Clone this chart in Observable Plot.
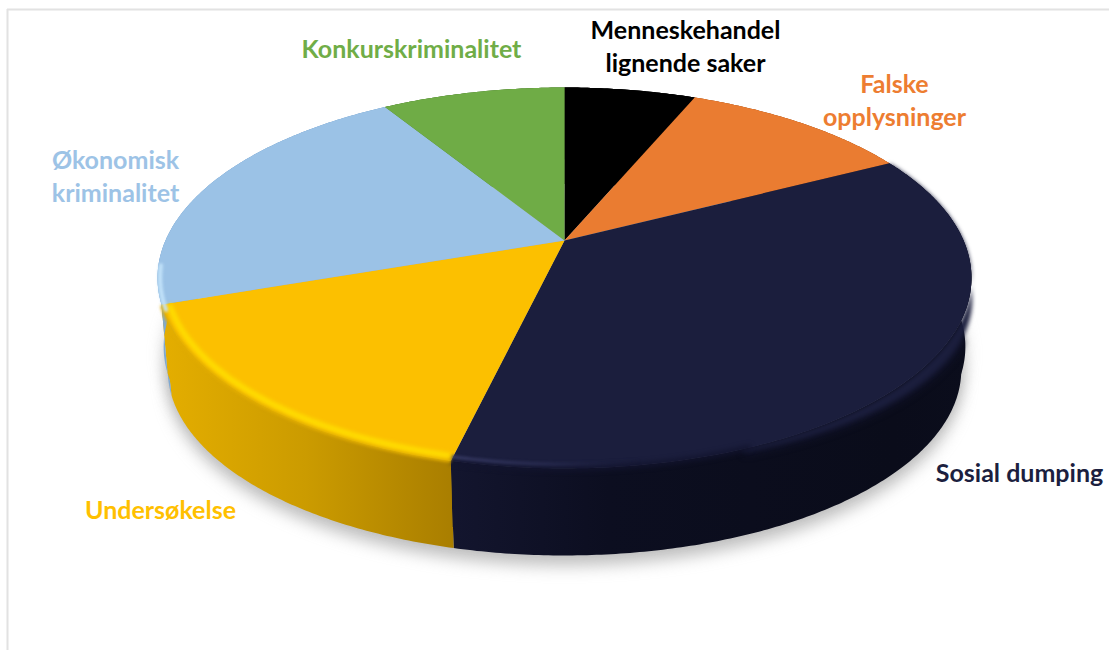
<!DOCTYPE html>
<html>
<head>
<meta charset="utf-8">
<style>html,body{margin:0;padding:0;background:#fff}svg{display:block}</style>
<script src="https://cdn.jsdelivr.net/npm/d3@7"></script>
<script src="https://cdn.jsdelivr.net/npm/@observablehq/plot@0.6"></script>
</head>
<body>
<div id="chart"></div>
<script>
// Data, clockwise from 12 o'clock
const categories = ["Menneskehandel\nlignende saker", "Falske\nopplysninger", "Sosial dumping", "Undersøkelse", "Økonomisk\nkriminalitet", "Konkurskriminalitet"];
const shares = [6.3, 11.1, 36.3, 16, 21.5, 8.8];

// Styles and layout
const faceColors = ["#000000", "#ea7c31", "#1b1e3d", "#fcc000", "#9bc2e6", "#6fac46"];
const textColors = ["#000000", "#ed7d31", "#1c1f3f", "#ffc000", "#9dc3e6", "#70ad47"];
const wallFills = ["#000000", "#b05a20", "url(#wallNavy)", "url(#wallGold)", "#7fa9d2", "#4f8030"];
const labelX = [685, 894, 1019, 160, 115, 411];
const labelY = [44, 98, 471, 508, 174, 47];

// Perspective view of the disc
const view = {cx: 564, cy: 240, a: 183.1, b: 399, k: 0.1968, depth: 92.7, shrink: 0.975};
function project(theta, plane = 0, r = 1, s = 1) {
  const u = r * Math.sin(theta), v = -r * Math.cos(theta), w = 1 - view.k * v;
  return {x: view.cx + view.b * s * u / w, y: view.cy + plane * view.depth + view.a * s * v / w};
}
const sweep = (t0, t1, f) => {
  const n = Math.max(2, Math.ceil(Math.abs(t1 - t0) / 0.01));
  return d3.range(n + 1).map(i => f(t0 + (t1 - t0) * i / n));
};
const topRim = (t0, t1, r = 1) => sweep(t0, t1, t => project(t, 0, r));
const midRim = (t0, t1) => sweep(t0, t1, t => project(t, 0.75, 1, 0.985));
const lowRim = (t0, t1) => sweep(t0, t1, t => project(t, 1, 1, view.shrink));
// Rounded shoulder of the disc: a little lower and wider towards the sides
const shoulder = (t0, t1) => sweep(t0, t1, t => {
  const p = project(t, 0.13 * Math.sin(t) ** 2);
  const u = Math.sin(t), v = -Math.cos(t);
  return {x: p.x + 25 * u * Math.max(v - 0.2, 0), y: p.y};
});
const arcs = d3.pie().sort(null).value(d => d)(shares);
const hub = project(0, 0, 0);
const TAU = Math.PI * 2;
const navy = arcs[2], gold = arcs[3];

const defs = () => {
  const d = d3.create("svg:defs");
  const grad = (id, x1, x2, stops) => {
    const g = d.append("linearGradient").attr("id", id).attr("gradientUnits", "userSpaceOnUse")
      .attr("x1", x1).attr("x2", x2).attr("y1", 0).attr("y2", 0);
    stops.forEach(([o, c, a = 1]) => g.append("stop").attr("offset", o).attr("stop-color", c).attr("stop-opacity", a));
  };
  grad("wallGold", 160, 453, [[0, "#e4ae00"], [0.5, "#cb9b00"], [1, "#a97e00"]]);
  grad("wallNavy", 453, 970, [[0, "#13152e"], [0.3, "#0c0e20"], [0.85, "#0a0c1a"], [1, "#0b0d1c"]]);
  grad("bevelNavy", 452, 640, [[0, "#3a3d68"], [0.5, "#2c2f56", 0.8], [1, "#1b1e3d", 0]]);
  return d.node();
};

const xy = {x: "x", y: "y"};
const plot = Plot.plot({
  width: 1109, height: 653, margin: 0,
  x: {domain: [0, 1109], range: [0, 1109], axis: null},
  y: {domain: [0, 653], range: [0, 653], axis: null},
  style: {background: "#fff"},
  marks: [
    defs,
    // Frame
    Plot.ruleX([7], {y1: 9, y2: 650, stroke: "#e2e2e2", strokeWidth: 2}),
    Plot.ruleY([9], {x1: 7, x2: 1109, stroke: "#e2e2e2", strokeWidth: 2}),
    // Cast shadow
    Plot.line(lowRim(0, TAU).map(p => ({x: p.x, y: p.y + 10})), {...xy, fill: "#8a8a8a", stroke: "none", fillOpacity: 0.55, imageFilter: "blur(8px)"}),
    Plot.line(midRim(0, TAU).map(p => ({x: p.x, y: p.y + 8})), {...xy, fill: "#8a8a8a", stroke: "none", fillOpacity: 0.4, imageFilter: "blur(8px)"}),
    // Side walls
    ...arcs.map((s, i) => Plot.line(
      [...topRim(s.startAngle, s.endAngle), ...lowRim(s.endAngle, s.startAngle)],
      {...xy, fill: wallFills[i], stroke: "none"})),
    ...arcs.map((s, i) => Plot.line(
      [...topRim(s.startAngle, s.endAngle), ...midRim(s.endAngle, s.startAngle)],
      {...xy, fill: wallFills[i], stroke: "none"})),
    // Dark blur where the shoulder meets the wall
    Plot.line(shoulder(navy.startAngle + 0.95, navy.endAngle - 0.6), {...xy, stroke: "#12142c", strokeWidth: 7, imageFilter: "blur(3.5px)"}),
    // Shoulder of the navy slice
    Plot.line(
      [...topRim(navy.startAngle, navy.endAngle - 0.6), ...shoulder(navy.endAngle - 0.6, navy.startAngle)],
      {...xy, fill: "#1b1e3d", stroke: "none", imageFilter: "blur(2px)"}),
    // Top faces
    ...arcs.map((s, i) => Plot.line(
      [hub, ...topRim(s.startAngle, s.endAngle), hub],
      {...xy, fill: faceColors[i], stroke: "none"})),
    // Bevel along the rim
    Plot.line(topRim(navy.endAngle - 0.62, navy.endAngle - 0.005), {...xy, stroke: "#12142e", strokeWidth: 5, imageFilter: "blur(2.5px)"}),
    Plot.line(topRim(navy.endAngle - 0.5, navy.endAngle, 0.985), {...xy, stroke: "url(#bevelNavy)", strokeWidth: 3, imageFilter: "blur(1.5px)"}),
    Plot.line(topRim(gold.startAngle + 0.003, gold.endAngle - 0.012), {...xy, stroke: "#e2ad00", strokeWidth: 3.5, imageFilter: "blur(1.8px)"}),
    Plot.line(topRim(gold.startAngle + 0.01, gold.endAngle - 0.016, 0.982), {...xy, stroke: "#ffe200", strokeWidth: 5, strokeOpacity: 0.95, imageFilter: "blur(2.2px)"}),
    Plot.line(topRim(gold.endAngle - 0.03, gold.endAngle + 0.2, 0.994), {...xy, stroke: "#c4e4fa", strokeWidth: 4, imageFilter: "blur(1.4px)"}),
    // Labels
    Plot.text(categories, {
      x: (d, i) => labelX[i], y: (d, i) => labelY[i],
      text: d => d,
      fill: (d, i) => textColors[i],
      fontFamily: "Lato", fontWeight: 700, fontSize: 25, lineHeight: 1.32,
      textAnchor: "middle"
    })
  ],
  color: {type: "identity"}
});
document.getElementById("chart").append(plot);
</script>
</body>
</html>
